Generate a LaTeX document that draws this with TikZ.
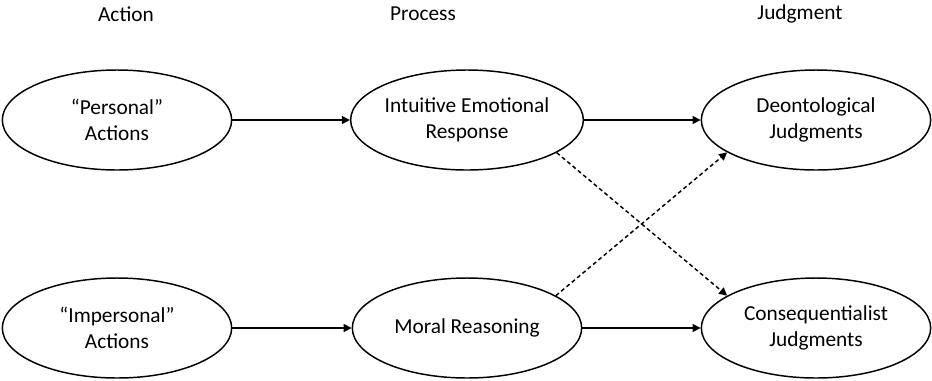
\documentclass[tikz,border=0pt]{standalone}
\usepackage{fontspec}
\setmainfont{Carlito}
\usetikzlibrary{arrows.meta,shapes.geometric}
\tikzset{
  oval/.style={ellipse,draw,line width=1.1pt,minimum width=172pt,minimum height=75pt,
    inner sep=0pt,align=center,font=\fontsize{16}{19.5}\selectfont},
  head/.style={font=\fontsize{16}{19}\selectfont},
  link/.style={-{Triangle[length=6pt,width=6pt]},line width=1.1pt},
  cross/.style={link,dash pattern=on 3pt off 2.2pt}
}

\begin{document}
\begin{tikzpicture}[x=0.75pt,y=-0.75pt]
        \useasboundingbox (0,0) rectangle (932,380);
        \node[head] (hact) at (126,14) {Action};
        \node[head] (hproc) at (423,14) {Process};
        \node[head] (hjudg) at (800,14) {Judgment};
        \node[oval] (persact) at (117,120) {“Personal”\\Actions};
        \node[oval] (impact) at (117,328) {“Impersonal”\\Actions};
        \node[oval] (emoresp) at (467,120) {Intuitive Emotional\\Response};
        \node[oval] (reason) at (467,328) {Moral Reasoning};
        \node[oval] (deont) at (816,120) {Deontological\\Judgments};
        \node[oval] (conseq) at (816,328) {Consequentialist\\Judgments};
        \draw[link] (persact) -- (emoresp);
        \draw[link] (impact) -- (reason);
        \draw[link] (emoresp) -- (deont);
        \draw[link] (reason) -- (conseq);
        \draw[cross] (emoresp.-20) -- (conseq.160);
        \draw[cross] (reason.20) -- (deont.-160);
      \end{tikzpicture}
\end{document}
